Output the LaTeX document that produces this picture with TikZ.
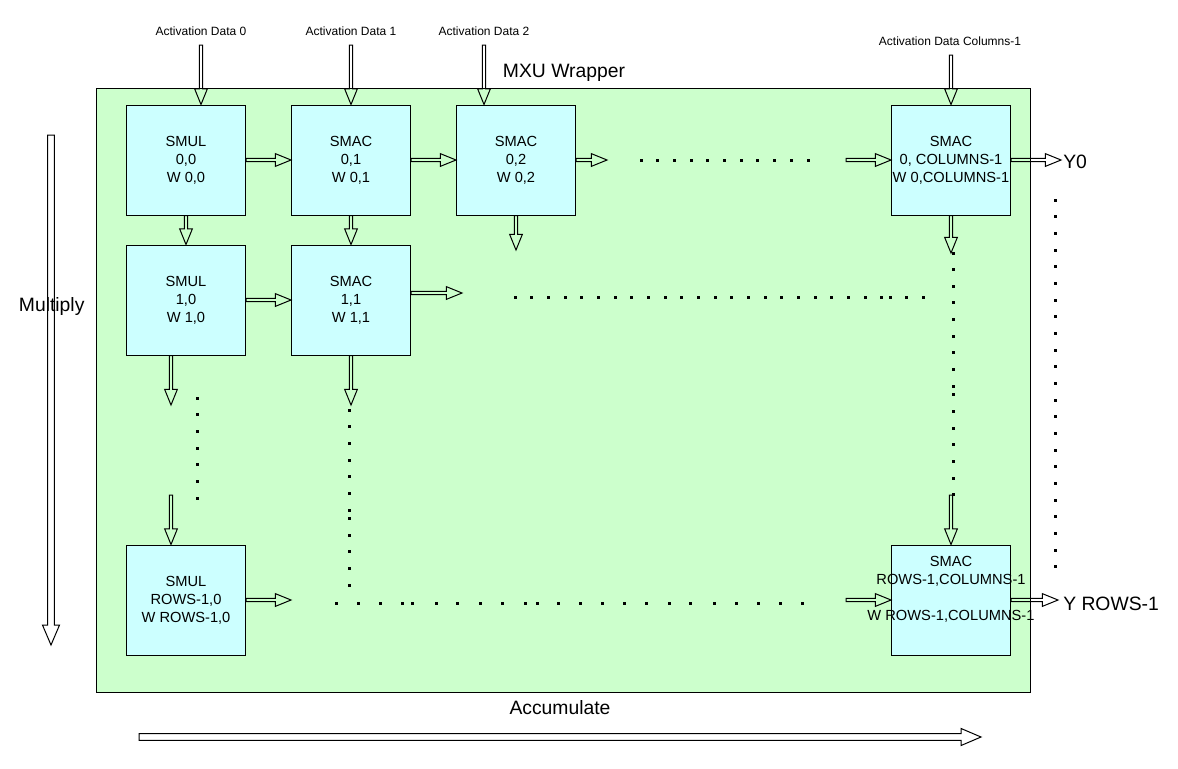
\documentclass[tikz,border=0pt]{standalone}
\usepackage{fontspec}
\setmainfont{Liberation Sans}
\usetikzlibrary{calc}
\definecolor{wrapgreen}{HTML}{CCFFCC}
\definecolor{peblue}{HTML}{CCFFFF}
\tikzset{
  hollowarrow/.style n args={3}{draw=black, line width=0.75pt, line join=miter, to path={
    ($(\tikztostart)!#1!90:(\tikztotarget)$)
    -- ($(\tikztotarget)!#3!(\tikztostart)!#1!-90:(\tikztostart)$)
    -- ($(\tikztotarget)!#3!(\tikztostart)!#2!-90:(\tikztostart)$)
    -- (\tikztotarget)
    -- ($(\tikztotarget)!#3!(\tikztostart)!#2!90:(\tikztostart)$)
    -- ($(\tikztotarget)!#3!(\tikztostart)!#1!90:(\tikztostart)$)
    -- ($(\tikztostart)!#1!-90:(\tikztotarget)$)
    -- cycle}},
  hollow/.style={hollowarrow={1.25pt}{4.8pt}{11.8pt}},
  bighollow/.style={hollowarrow={2.5pt}{6.4pt}{15pt}},
  pe/.style={draw=black, line width=0.75pt, fill=peblue, minimum width=89.25pt,
    minimum height=82.5pt, inner sep=0pt, align=center,
    font=\fontsize{11}{13.5}\selectfont},
  small/.style={font=\fontsize{9}{11}\selectfont, anchor=base, inner sep=0pt},
  big/.style={font=\fontsize{14.5}{17}\selectfont, anchor=base, inner sep=0pt},
}
\newcommand\sq[2]{\fill (#1-1.5,#2-1.5) rectangle ++(3,3);}
\begin{document}
\begin{tikzpicture}[x=0.75pt, y=-0.75pt]
\useasboundingbox (0,0) rectangle (1178,768);
% wrapper
\filldraw[fill=wrapgreen, draw=black, line width=0.75pt] (96,88) rectangle (1030,692);
\node[big] (mxu) at (564,77) {MXU Wrapper};
% processing elements
\node[pe] (n00) at (186,160) {SMUL\\0,0\\W 0,0};
\node[pe] (n01) at (351,160) {SMAC\\0,1\\W 0,1};
\node[pe] (n02) at (516,160) {SMAC\\0,2\\W 0,2};
\node[pe] (n0C) at (951,160) {SMAC\\0, COLUMNS-1\\\makebox[0pt]{W 0,COLUMNS-1}};
\node[pe] (n10) at (186,300) {SMUL\\1,0\\W 1,0};
\node[pe] (n11) at (351,300) {SMAC\\1,1\\W 1,1};
\node[pe] (nR0) at (186,600) {SMUL\\ROWS-1,0\\W ROWS-1,0};
\node[pe] (nRC) at (951,600) {SMAC\\\makebox[0pt]{ROWS-1,COLUMNS-1}\\\strut\\\makebox[0pt]{W ROWS-1,COLUMNS-1}\\\strut};
% activation inputs
\node[small] (lA0) at (201,35) {Activation Data 0};
\node[small] (lA1) at (351,35) {Activation Data 1};
\node[small] (lA2) at (484,35) {Activation Data 2};
\node[small] (lA3) at (950,45.5) {Activation Data Columns-1};
\coordinate (a0) at (201,45);
\coordinate (a1) at (351,45);
\coordinate (a2) at (484,45);
\coordinate (a3) at (951,55);
\draw[hollow] (a0) to (a0 |- n00.north);
\draw[hollow] (a1) to (a1 |- n01.north);
\draw[hollow] (a2) to (a2 |- n02.north);
\draw[hollow] (a3) to (a3 |- n0C.north);
% free ends
\coordinate (r0e) at (607,160);
\coordinate (r0s) at (846,160);
\coordinate (y0e) at (1061,160);
\coordinate (c2e) at (516,250);
\coordinate (cCe) at (951,253);
\coordinate (r1e) at (462,293);
\coordinate (c0e) at (171,405);
\coordinate (c0s) at (171,495);
\coordinate (c1e) at (351,405);
\coordinate (cCs) at (951,495);
\coordinate (rRe) at (291,600);
\coordinate (rRs) at (846,600);
\coordinate (yRe) at (1058,600);
% row 0
\draw[hollow] (n00.east) to (n01.west);
\draw[hollow] (n01.east) to (n02.west);
\draw[hollow] (n02.east) to (r0e);
\draw[hollow] (r0s) to (n0C.west);
\draw[hollow] (n0C.east) to (y0e);
% columns from row 0
\draw[hollow] (n00.south) to (n10.north);
\draw[hollow] (n01.south) to (n11.north);
\draw[hollow] (n02.south) to (c2e);
\draw[hollow] (n0C.south) to (cCe);
% row 1
\draw[hollow] (n10.east) to (n11.west);
\draw[hollow] (r1e -| n11.east) to (r1e);
\draw[hollow] (c0e |- n10.south) to (c0e);
\draw[hollow] (c1e |- n11.south) to (c1e);
% into last row
\draw[hollow] (c0s) to (c0s |- nR0.north);
\draw[hollow] (cCs) to (cCs |- nRC.north);
\draw[hollow] (nR0.east) to (rRe);
\draw[hollow] (rRs) to (nRC.west);
\draw[hollow] (nRC.east) to (yRe);
% outputs
\node[big, anchor=base west] (lY0) at (1063,168) {Y0};
\node[big, anchor=base west] (lYR) at (1063,610.7) {Y ROWS-1};
% dots
\foreach \k in {0,...,10} {\sq{641+16.7*\k}{160}}
\foreach \k in {0,...,22} {\sq{515+16.67*\k}{297.3}}
\foreach \x in {890,906.7,923.3} {\sq{\x}{297.3}}
\foreach \k in {0,...,6} {\sq{197.3}{398.3+16.67*\k}}
\foreach \y in {410,426,443.3,460,476,493.3,510,518.3,535,551.7,568.3,585.7} {\sq{349.3}{\y}}
\foreach \y in {253.3,269.3,286,302.7,319.3,336,352.7,369.3,386,394,411.7,428,444.3,461,478.3,494.3} {\sq{953.3}{\y}}
\foreach \x in {336,358.8,380.3,402.2,412.8,436,457.9,480.2,502.5,525.7,537.1,558.2,580.5,602.4,624.3,646.7,669,690.9,714.1,736.4,758.3,780.7,802.6} {\sq{\x}{603}}
\foreach \k in {0,...,22} {\sq{1055.7}{200+16.68*\k}}
% direction arrows
\coordinate (mulS) at (51,135);
\coordinate (mulE) at (51,645);
\coordinate (accS) at (139,737);
\coordinate (accE) at (981,737);
\draw[bighollow] (mulS) to (mulE);
\draw[bighollow] (accS) to (accE);
\node[big] (lmul) at (51.7,311.7) {Multiply};
\node[big] (lacc) at (560,714.3) {Accumulate};
\end{tikzpicture}
\end{document}
